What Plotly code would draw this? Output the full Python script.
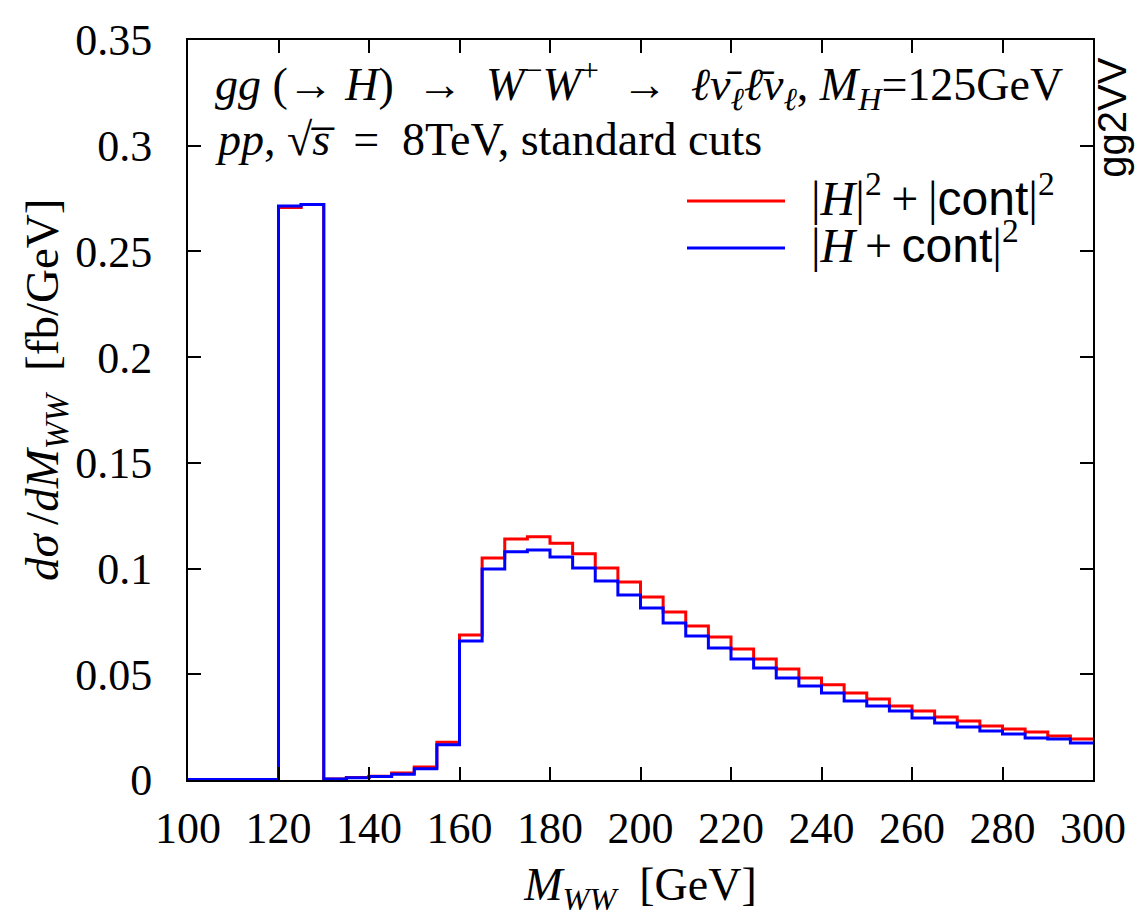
import plotly.graph_objects as go

# ---- data ----
bin_lo = list(range(100, 300, 5))  # 40 bins of 5 GeV, 100..300
x_hi = 300

sum_sq = [  # |H|^2 + |cont|^2  (red)
    0.0002, 0.0002, 0.0002, 0.0002,
    0.2708, 0.2722,
    0.0005, 0.0012, 0.0018, 0.0033, 0.0062, 0.0178,
    0.0686, 0.1050, 0.1140, 0.1150, 0.1120, 0.1070, 0.1003, 0.0937,
    0.0866, 0.0795, 0.0728, 0.0676, 0.0620, 0.0572, 0.0525, 0.0483,
    0.0450, 0.0412, 0.0383, 0.0350, 0.0326, 0.0298, 0.0279, 0.0255,
    0.0241, 0.0227, 0.0208, 0.0194,
]
interf = [  # |H + cont|^2  (blue)
    0.0002, 0.0002, 0.0002, 0.0002,
    0.2715, 0.2722,
    0.0005, 0.0011, 0.0016, 0.0027, 0.0053, 0.0167,
    0.0658, 0.0998, 0.1080, 0.1088, 0.1055, 0.1003, 0.0941, 0.0875,
    0.0814, 0.0743, 0.0681, 0.0624, 0.0572, 0.0530, 0.0483, 0.0445,
    0.0412, 0.0374, 0.0350, 0.0326, 0.0293, 0.0270, 0.0251, 0.0232,
    0.0218, 0.0199, 0.0194, 0.0175,
]
x_ticks = list(range(100, 301, 20))
y_ticks = [0, 0.05, 0.1, 0.15, 0.2, 0.25, 0.3, 0.35]
y_tick_text = ["0", "0.05", "0.1", "0.15", "0.2", "0.25", "0.3", "0.35"]

series = [
    ("|H|²+|cont|²", sum_sq, "#ff0000"),
    ("|H+cont|²", interf, "#0000ff"),
]

SERIF = "Liberation Serif"
SANS = "Liberation Sans"
EN = "\u2002"
THIN = "\u2009"

fig = go.Figure()
for name, vals, col in series:
    fig.add_trace(go.Scatter(
        x=bin_lo + [x_hi], y=vals + [vals[-1]],
        mode="lines", line=dict(color=col, width=3, shape="hv"),
        name=name, showlegend=False,
    ))

axis_common = dict(
    showline=True, linecolor="black", linewidth=2, mirror="ticks",
    ticks="inside", ticklen=13, tickwidth=2, tickcolor="black",
    showgrid=False, zeroline=False,
    tickfont=dict(family=SERIF, size=44, color="black"),
)

fig.update_xaxes(
    range=[100, 300], tickvals=x_ticks, **axis_common,
    ticklabelstandoff=8,
    title=dict(text="<i>M</i><sub><i>WW</i></sub>" + EN + "[GeV]",
               font=dict(family=SERIF, size=46, color="black"), standoff=16),
)
fig.update_yaxes(
    range=[0, 0.35], tickvals=y_ticks, ticktext=y_tick_text, **axis_common,
    ticklabelstandoff=25,
)

# y-axis title
fig.add_annotation(
    xref="paper", yref="paper", x=-0.158, y=0.527, xanchor="center", yanchor="middle",
    showarrow=False, textangle=-90, font=dict(family=SERIF, size=47, color="black"),
    text="<i>dσ</i>" + THIN + "/<i>dM</i><sub><i>WW</i></sub>" + EN + "[fb/GeV]",
)

# process description
fig.add_annotation(
    xref="paper", yref="paper", x=0.028, y=0.94, xanchor="left", yanchor="middle",
    showarrow=False, font=dict(family=SERIF, size=46, color="black"),
    text=("<i>gg</i> (→ <i>H</i>)" + EN + "→" + EN +
          "<i>W</i><sup>−</sup><i>W</i><sup>+</sup>" + EN + "→" + EN +
          "<i>ℓ\u03bd\u0304</i><sub><i>ℓ</i></sub><i>ℓ\u0304\u03bd</i><sub><i>ℓ</i></sub>, "
          "<i>M</i><sub><i>H</i></sub>=125GeV"),
)
fig.add_annotation(
    xref="paper", yref="paper", x=0.028, y=0.866, xanchor="left", yanchor="middle",
    showarrow=False, font=dict(family=SERIF, size=46, color="black"),
    text="<i>pp</i>, √<i>s\u0305</i>" + EN + "=" + EN + "8TeV, standard cuts",
)

# legend (drawn manually to match long line samples)
leg_y = [0.7824, 0.7189]
leg_text = [
    "|<i>H</i>|<sup>2</sup>" + THIN + "+" + THIN +
    "|<span style='font-family:Liberation Sans'>cont</span>|<sup>2</sup>",
    "|<i>H</i>" + THIN + "+" + THIN +
    "<span style='font-family:Liberation Sans'>cont</span>|<sup>2</sup>",
]
for (name, vals, col), ly, lt in zip(series, leg_y, leg_text):
    fig.add_shape(type="line", xref="paper", yref="paper",
                  x0=0.5514, x1=0.6597, y0=ly, y1=ly,
                  line=dict(color=col, width=3))
    fig.add_annotation(
        xref="paper", yref="paper", x=0.686, y=ly + 0.008, xanchor="left", yanchor="middle",
        showarrow=False, font=dict(family=SERIF, size=48, color="black"), text=lt,
    )

# program tag
fig.add_annotation(
    xref="paper", yref="paper", x=1.021, y=0.895, xanchor="center", yanchor="middle",
    showarrow=False, textangle=-90, font=dict(family=SANS, size=40, color="black"),
    text="gg2VV",
)

fig.update_layout(
    width=1140, height=919,
    margin=dict(l=188, r=47, t=40, b=139, autoexpand=False),
    paper_bgcolor="white", plot_bgcolor="white",
)

fig.write_html("out.html", config={"displayModeBar": False},
               post_script="document.body.style.margin='0px';")
